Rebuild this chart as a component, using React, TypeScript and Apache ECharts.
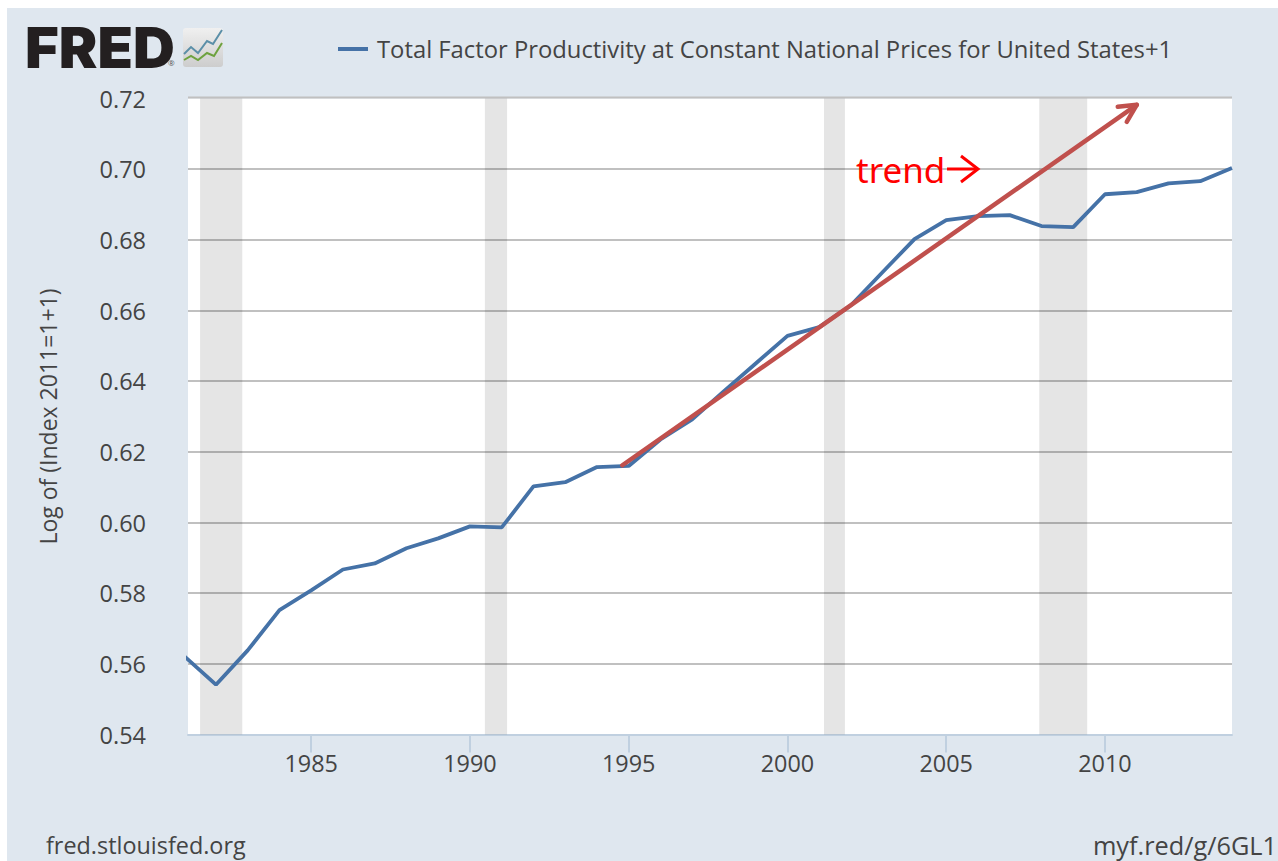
import React, { useEffect, useRef } from "react";
import * as echarts from "echarts";

const years = [1981,1982,1983,1984,1985,1986,1987,1988,1989,1990,1991,1992,1993,1994,1995,1996,1997,1998,1999,2000,2001,2002,2003,2004,2005,2006,2007,2008,2009,2010,2011,2012,2013,2014];
const tfpValues = [0.5622,0.5541,0.5638,0.5752,0.5808,0.5867,0.5884,0.5927,0.5955,0.5989,0.5986,0.6102,0.6114,0.6157,0.616,0.6235,0.6292,0.6372,0.645,0.6528,0.6553,0.6615,0.6709,0.6802,0.6856,0.6867,0.687,0.6839,0.6836,0.6929,0.6935,0.696,0.6966,0.7003];
const recessions = [[1981.5,1982.83],[1990.47,1991.17],[2001.15,2001.81],[2007.93,2009.44]];
const trendX = [1994.8,2011.0];
const trendY = [0.6162,0.7182];
const xTicks = [1985,1990,1995,2000,2005,2010];
const seriesName = "Total Factor Productivity at Constant National Prices for United States+1";
const FONT = "'Open Sans'";
const TXT = "#444444";
const BG = "#dfe7ef";

export default function App() {
  const ref = useRef<HTMLDivElement>(null);
  useEffect(() => {
    const chart = echarts.init(ref.current!, null, { renderer: "svg" });
    chart.setOption({
      animation: false,
      backgroundColor: "#ffffff",
      textStyle: { fontFamily: FONT },
      grid: { left: 188, right: 46, top: 98.5, bottom: 126.5, show: true, backgroundColor: "#ffffff", borderWidth: 0 },
      legend: {
        data: [{ name: seriesName, icon: "rect" }],
        left: 333, top: 32, itemWidth: 30, itemHeight: 4,
        textStyle: { fontFamily: FONT, fontSize: 23.8, fontWeight: 500, color: TXT, padding: [0, 0, 0, 4] },
      },
      xAxis: {
        type: "value", min: 1981.12, max: 2014,
        splitLine: { show: false },
        axisLine: { show: true, onZero: false, lineStyle: { color: "#c0d0e0", width: 2 } },
        axisTick: { show: true, length: 18, customValues: xTicks, lineStyle: { color: "#c0d0e0", width: 2 } },
        axisLabel: { customValues: xTicks, fontSize: 23.4, color: TXT, margin: 17, formatter: (v: number) => String(v), fontFamily: FONT },
      },
      yAxis: {
        type: "value", min: 0.54, max: 0.72, interval: 0.02,
        name: "Log of (Index 2011=1+1)", nameLocation: "middle", nameGap: 129,
        nameTextStyle: { fontSize: 23, color: TXT, fontFamily: FONT },
        axisLine: { show: false }, axisTick: { show: false },
        axisLabel: { fontSize: 23.5, color: TXT, margin: 42, formatter: (v: number) => v.toFixed(2), fontFamily: FONT },
        splitLine: { showMaxLine: false, lineStyle: { color: "#c0c0c0", width: 2 } },
      },
      series: [
        {
          name: seriesName, type: "line", showSymbol: false, clip: true,
          data: years.map((y, i) => [y, tfpValues[i]]),
          lineStyle: { color: "#4572a7", width: 3.8 },
          itemStyle: { color: "#4572a7" },
          markArea: {
            silent: true,
            itemStyle: { color: "rgba(0,0,0,0.1)" },
            data: recessions.map(([a, b]) => [{ xAxis: a }, { xAxis: b }]),
          },
          z: 3,
        },
        {
          name: "trend", type: "custom", coordinateSystem: "cartesian2d", z: 4, clip: false,
          data: [[trendX[0], trendY[0], trendX[1], trendY[1]]],
          encode: { x: [0, 2], y: [1, 3] },
          renderItem: (_p: any, api: any) => {
            const s = api.coord([api.value(0), api.value(1)]);
            const e = api.coord([api.value(2), api.value(3)]);
            const style = { stroke: "#c0504d", lineWidth: 4.5, fill: "none", lineCap: "round", lineJoin: "round" };
            return {
              type: "group",
              children: [
                { type: "polyline", shape: { points: [s, e] }, style },
                { type: "polyline", shape: { points: [[e[0] - 19, e[1] + 2], e, [e[0] - 10, e[1] + 17]] }, style },
              ],
            };
          },
        },
      ],
      graphic: [
        { type: "rect", z: -10, silent: true, shape: { x: 7, y: 8, width: 1271, height: 853 }, style: { fill: BG } },
        { type: "rect", z: 1, silent: true, shape: { x: 188, y: 96.5, width: 1044, height: 2 }, style: { fill: "#c0c0c0" } },
        { type: "text", x: 25, y: 20, z: 10, scaleX: 1.035, style: { text: "FRED", font: "900 56px Inter", fill: "#231f20" } },
        { type: "text", x: 168, y: 58, z: 10, style: { text: "®", font: "8px 'Open Sans'", fill: "#555555" } },
        { type: "rect", z: 10, shape: { x: 183, y: 28, width: 40, height: 39, r: 3 }, style: { fill: new echarts.graphic.LinearGradient(0, 0, 0, 1, [{ offset: 0, color: "#f0f0f0" }, { offset: 1, color: "#cdcdcd" }]) } },
        { type: "polyline", z: 11, shape: { points: [[184, 54], [191, 47], [198, 53], [207, 41], [213, 44], [222, 30]] }, style: { stroke: "#5b8fa8", lineWidth: 2, fill: "none" } },
        { type: "polyline", z: 11, shape: { points: [[184, 60], [191, 56], [198, 60], [207, 53], [214, 56], [222, 43]] }, style: { stroke: "#6ea23f", lineWidth: 2, fill: "none" } },
        { type: "text", x: 856, y: 152, z: 10, style: { text: "trend", font: "35px 'Noto Sans'", fill: "#ff0000" } },
        { type: "polyline", z: 10, shape: { points: [[947, 169], [978, 169]] }, style: { stroke: "#ff0000", lineWidth: 3, fill: "none" } },
        { type: "polyline", z: 10, shape: { points: [[961, 156], [978, 169], [961, 182]] }, style: { stroke: "#ff0000", lineWidth: 3, fill: "none" } },
        { type: "text", x: 46, y: 833, z: 10, style: { text: "fred.stlouisfed.org", font: "23.4px 'Open Sans'", fill: TXT } },
        { type: "text", x: 1277, y: 832, z: 10, style: { text: "myf.red/g/6GL1", font: "25.3px 'Open Sans'", fill: TXT, align: "right" } },
      ],
    });
    return () => chart.dispose();
  }, []);
  return <div ref={ref} style={{ position: "absolute", left: 0, top: 0, width: 1278, height: 861 }} />;
}
